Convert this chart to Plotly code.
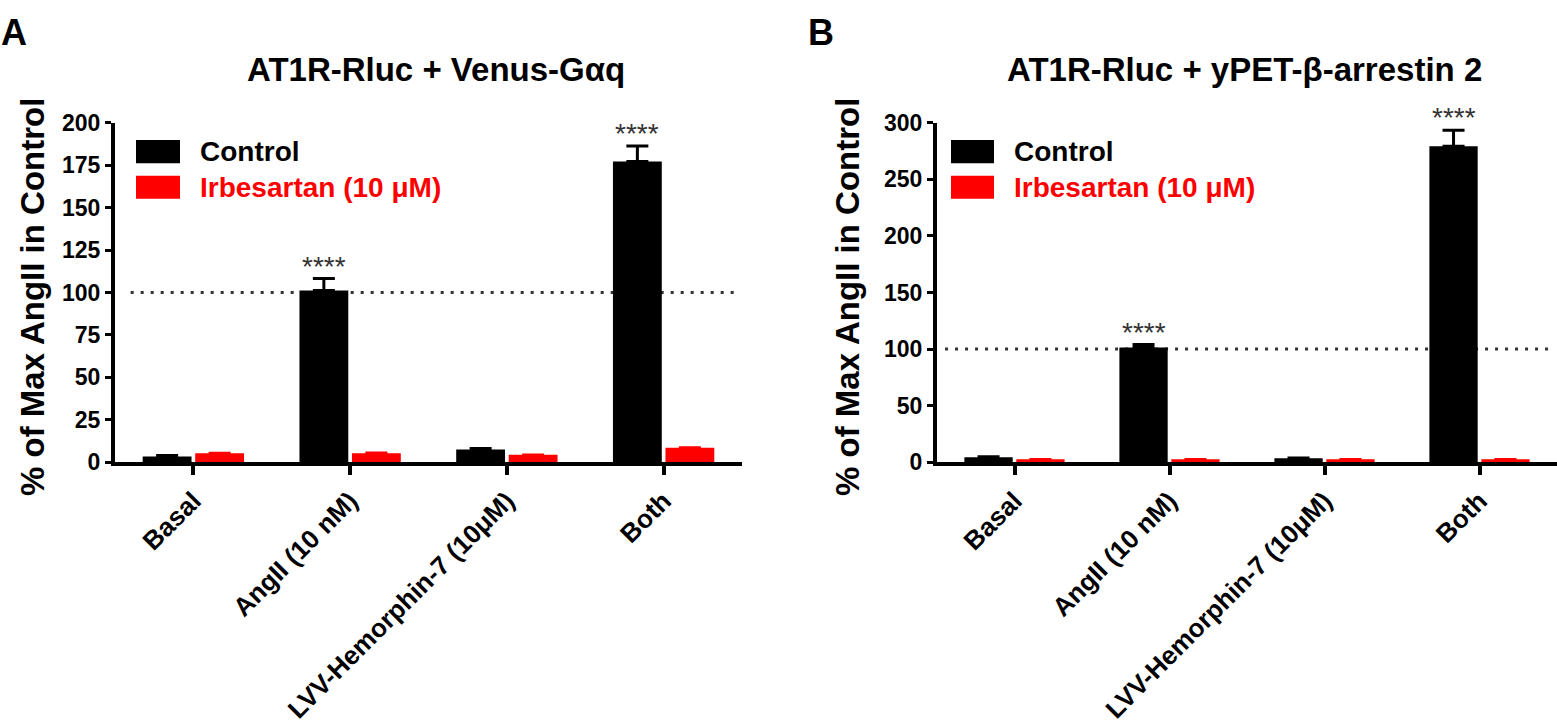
import plotly.graph_objects as go

# ---------------- data ----------------
categories = ["Basal", "AngII (10 nM)", "LVV-Hemorphin-7 (10μM)", "Both"]
series_names = ["Control", "Irbesartan (10 μM)"]

a_control = [3.4, 101.2, 7.6, 177.2]
a_control_err = [0.6, 7.0, 0.5, 9.1]
a_irbesartan = [5.3, 5.3, 4.4, 8.5]
a_irbesartan_err = [0.3, 0.5, 0.2, 0.3]

b_control = [4.5, 101.5, 3.5, 279.3]
b_control_err = [0.3, 2.5, 0.4, 14.1]
b_irbesartan = [2.8, 2.8, 2.8, 2.8]
b_irbesartan_err = [0.2, 0.2, 0.2, 0.2]

significance = ["", "****", "", "****"]
reference_level = 100

a_title = "AT1R-Rluc + Venus-Gαq"
b_title = "AT1R-Rluc + yPET-β-arrestin 2"
y_title = "% of Max AngII in Control"
a_yticks = [0, 25, 50, 75, 100, 125, 150, 175, 200]
b_yticks = [0, 50, 100, 150, 200, 250, 300]

# ---------------- style ----------------
W, H = 1557, 724
FONT = "Liberation Sans, Arial, sans-serif"
BLACK = "#000000"
RED = "#ff0000"
BARGAP = 0.33
BARGROUPGAP = 0.07


def px_x(p):
    return p / W


def px_y(p):
    return (H - p) / H


fig = go.Figure()

panels = [
    ("x", "y", a_control, a_control_err, a_irbesartan, a_irbesartan_err),
    ("x2", "y2", b_control, b_control_err, b_irbesartan, b_irbesartan_err),
]

for xa, ya, ctl, ctl_e, irb, irb_e in panels:
    fig.add_trace(go.Bar(
        x=categories, y=ctl, name=series_names[0], xaxis=xa, yaxis=ya,
        marker=dict(color=BLACK, line=dict(width=0)),
        error_y=dict(type="data", array=ctl_e, arrayminus=[0] * len(ctl_e),
                     symmetric=False, color=BLACK, thickness=3, width=11),
        showlegend=False,
    ))
    fig.add_trace(go.Bar(
        x=categories, y=irb, name=series_names[1], xaxis=xa, yaxis=ya,
        marker=dict(color=RED, line=dict(width=0)),
        error_y=dict(type="data", array=irb_e, arrayminus=[0] * len(irb_e),
                     symmetric=False, color=RED, thickness=2, width=11),
        showlegend=False,
    ))

xaxis_common = dict(
    type="category", categoryorder="array", categoryarray=categories,
    range=[-0.5, len(categories) - 0.5],
    showline=True, linecolor=BLACK, linewidth=4,
    ticks="outside", ticklen=9, tickwidth=4, tickcolor=BLACK,
    tickangle=-45, tickfont=dict(family=FONT, size=26, color=BLACK, weight="bold"),
    showgrid=False, zeroline=False, fixedrange=True,
)
yaxis_common = dict(
    showline=True, linecolor=BLACK, linewidth=4,
    ticks="outside", ticklen=6, tickwidth=3, tickcolor=BLACK,
    tickfont=dict(family=FONT, size=23, color=BLACK, weight="bold"),
    showgrid=False, zeroline=False, fixedrange=True,
)

plot_top = 114
plot_bottom = 466.7

fig.update_layout(
    width=W, height=H,
    margin=dict(l=0, r=0, t=0, b=0),
    paper_bgcolor="white", plot_bgcolor="white",
    barmode="group", bargap=BARGAP, bargroupgap=BARGROUPGAP,
    xaxis=dict(domain=[px_x(115), px_x(742)], anchor="y", **xaxis_common),
    yaxis=dict(domain=[px_y(plot_bottom), px_y(plot_top)], anchor="x",
               range=[0, a_yticks[-1]], tickvals=a_yticks, **yaxis_common),
    xaxis2=dict(domain=[px_x(937), 1.0], anchor="y2", **xaxis_common),
    yaxis2=dict(domain=[px_y(plot_bottom), px_y(plot_top)], anchor="x2",
                range=[0, b_yticks[-1]], tickvals=b_yticks, **yaxis_common),
    showlegend=False,
)

shapes = []
annotations = []

# reference dotted lines
for xref, yref, x0, x1 in [("x domain", "y", 0.025, 0.99), ("x2 domain", "y2", 0.013, 0.992)]:
    shapes.append(dict(type="line", xref=xref, yref=yref, x0=x0, x1=x1,
                       y0=reference_level, y1=reference_level,
                       line=dict(color="#333333", width=3, dash="3px,7px"), layer="below"))

# significance stars above control bars
ctl_offset = -(1 - BARGAP) / 4
for xa, ya, ctl, ctl_e in [("x", "y", a_control, a_control_err), ("x2", "y2", b_control, b_control_err)]:
    for i, s in enumerate(significance):
        if s:
            annotations.append(dict(
                x=i + ctl_offset, y=ctl[i] + ctl_e[i], xref=xa, yref=ya,
                text=s, showarrow=False, xanchor="center", yanchor="bottom",
                yshift=-5, font=dict(family=FONT, size=28, color="#333333")))

# titles
for cx, txt in [(436, a_title), (1244, b_title)]:
    annotations.append(dict(x=px_x(cx), y=px_y(59), xref="paper", yref="paper",
                            text=txt, showarrow=False, xanchor="center", yanchor="middle",
                            font=dict(family=FONT, size=33, color=BLACK, weight="bold")))

# panel letters
for cx, txt in [(14, "A"), (821, "B")]:
    annotations.append(dict(x=px_x(cx), y=px_y(20), xref="paper", yref="paper",
                            text=txt, showarrow=False, xanchor="center", yanchor="middle",
                            font=dict(family=FONT, size=36, color=BLACK, weight="bold")))

# y-axis titles
for cx in [33, 848]:
    annotations.append(dict(x=px_x(cx), y=px_y(295), xref="paper", yref="paper",
                            text=y_title, showarrow=False, textangle=-90,
                            xanchor="center", yanchor="middle",
                            font=dict(family=FONT, size=33, color=BLACK, weight="bold")))

# legends (swatches + labels)
legend_rows = [(144, BLACK), (181, RED)]
for sx0, sx1, tx in [(136, 180, 198), (951, 994, 1012)]:
    for (cy, col), name in zip(legend_rows, series_names):
        shapes.append(dict(type="rect", xref="paper", yref="paper",
                           x0=px_x(sx0), x1=px_x(sx1), y0=px_y(cy + 12), y1=px_y(cy - 12),
                           fillcolor=col, line=dict(width=0)))
        annotations.append(dict(x=px_x(tx), y=px_y(cy), xref="paper", yref="paper",
                                text=name, showarrow=False, xanchor="left", yanchor="middle",
                                font=dict(family=FONT, size=28, color=col, weight="bold")))

fig.update_layout(shapes=shapes, annotations=annotations)

fig.write_html("out.html",
               config={"displayModeBar": False, "staticPlot": False},
               post_script="document.body.style.margin='0';document.body.style.overflow='hidden';")
